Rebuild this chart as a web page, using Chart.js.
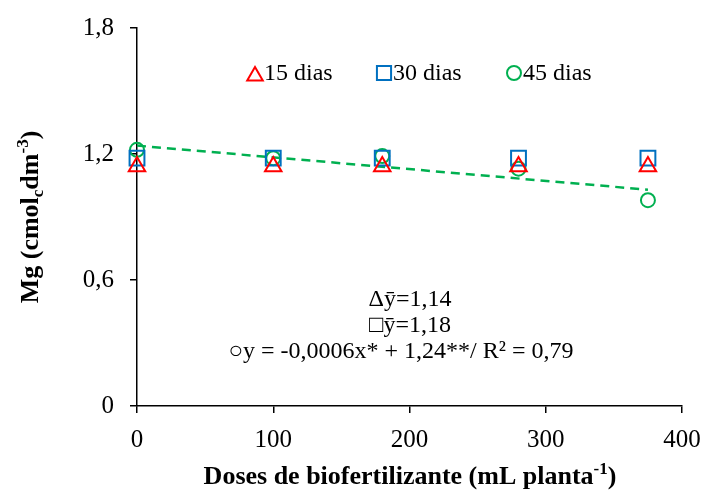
<!DOCTYPE html>
<html><head><meta charset="utf-8">
<script src="https://cdn.jsdelivr.net/npm/chart.js@4/dist/chart.umd.min.js"></script>
<style>html,body{margin:0;padding:0;background:#fff}#wrap{width:704px;height:491px}</style>
</head><body><div id="wrap"><canvas id="c" width="704" height="491"></canvas></div>
<script>
const doses = [0, 100, 180, 280, 375];
const mg15 = [1.14, 1.14, 1.14, 1.14, 1.14];
const mg30 = [1.18, 1.18, 1.18, 1.18, 1.18];
const mg45 = [1.22, 1.18, 1.19, 1.13, 0.98];
const trendX = [0, 375];
const trendY = [1.24, 1.03];
const xTicks = [0, 100, 200, 300, 400];
const yTicks = [0, 0.6, 1.2, 1.8];
const seriesNames = ['15 dias', '30 dias', '45 dias'];
const eqLines = ['\u0394y\u0304=1,14', '\u25A1y\u0304=1,18', '\u25CBy = -0,0006x* + 1,24**/ R\u00B2 = 0,79'];

const RED = '#FF0000', BLUE = '#0070C0', GREEN = '#00B050';
const FONT = '"Liberation Serif", "Times New Roman", serif';

const pts = (xs, ys) => xs.map((x, i) => ({x, y: ys[i]}));

const overlay = {
  id: 'overlay',
  afterDraw(chart) {
    const ctx = chart.ctx;
    ctx.save();
    // legend
    const legY = 73;
    const items = [
      {style: 'triangle', color: RED, x: 255, r: 9},
      {style: 'rect', color: BLUE, x: 384, r: 10},
      {style: 'circle', color: GREEN, x: 514, r: 7}
    ];
    items.forEach((it, i) => {
      ctx.lineWidth = 2;
      ctx.strokeStyle = it.color;
      ctx.fillStyle = 'rgba(0,0,0,0)';
      Chart.helpers.drawPoint(ctx, {pointStyle: it.style, radius: it.r, borderWidth: 2}, it.x, it.style === 'triangle' ? legY + 3 : legY);
      ctx.fillStyle = '#000';
      ctx.font = '24px ' + FONT;
      ctx.textBaseline = 'middle';
      ctx.textAlign = 'left';
      ctx.fillText(seriesNames[i], it.x + 9, legY + 1);
    });
    // equations
    ctx.fillStyle = '#000';
    ctx.font = '24px ' + FONT;
    ctx.textAlign = 'center';
    ctx.textBaseline = 'middle';
    ctx.fillText(eqLines[0], 410, 300);
    ctx.fillText(eqLines[1], 410, 326);
    ctx.fillText(eqLines[2], 401, 352);

    // x title with superscript
    const big = 'bold 26px ' + FONT, small = 'bold 17px ' + FONT;
    ctx.textBaseline = 'alphabetic';
    ctx.textAlign = 'left';
    const p1 = 'Doses de biofertilizante (mL planta', sup = '-1', p2 = ')';
    ctx.font = big; const w1 = ctx.measureText(p1).width;
    ctx.font = small; const ws = ctx.measureText(sup).width;
    ctx.font = big; const w2 = ctx.measureText(p2).width;
    let sx = 410 - (w1 + ws + w2) / 2;
    const by = 484;
    ctx.fillText(p1, sx, by); sx += w1;
    ctx.font = small; ctx.fillText(sup, sx, by - 10); sx += ws;
    ctx.font = big; ctx.fillText(p2, sx, by);

    // y title rotated with subscript and superscript
    ctx.save();
    ctx.translate(38, 217);
    ctx.rotate(-Math.PI / 2);
    const parts = [
      {t: 'Mg (cmol', f: big, dy: 0},
      {t: 'c', f: small, dy: 5},
      {t: 'dm', f: big, dy: 0},
      {t: '-3', f: small, dy: -10},
      {t: ')', f: big, dy: 0}
    ];
    let tot = 0;
    parts.forEach(p => { ctx.font = p.f; p.w = ctx.measureText(p.t).width; tot += p.w; });
    let px = -tot / 2;
    parts.forEach(p => { ctx.font = p.f; ctx.fillText(p.t, px, p.dy); px += p.w; });
    ctx.restore();
    ctx.restore();
  }
};

new Chart(document.getElementById('c'), {
  type: 'scatter',
  data: {
    datasets: [
      {label: seriesNames[0], data: pts(doses, mg15), pointStyle: 'triangle', pointRadius: 9.5, borderColor: RED, backgroundColor: 'rgba(0,0,0,0)', borderWidth: 2, showLine: false, clip: false},
      {label: seriesNames[1], data: pts(doses, mg30), pointStyle: 'rect', pointRadius: 10.5, borderColor: BLUE, backgroundColor: 'rgba(0,0,0,0)', borderWidth: 2, showLine: false, clip: false},
      {label: seriesNames[2], data: pts(doses, mg45), pointStyle: 'circle', pointRadius: 7, borderColor: GREEN, backgroundColor: 'rgba(0,0,0,0)', borderWidth: 2, showLine: false, clip: false},
      {label: 'trend', data: pts(trendX, trendY), showLine: true, pointRadius: 0, borderColor: GREEN, borderWidth: 2.5, borderDash: [9, 6], fill: false, clip: false}
    ]
  },
  options: {
    responsive: false,
    animation: false,
    layout: {padding: {left: 0, right: 22, top: 28, bottom: 0}},
    plugins: {legend: {display: false}, tooltip: {enabled: false}},
    scales: {
      x: {
        type: 'linear', min: 0, max: 400,
        afterBuildTicks: s => { s.ticks = xTicks.map(v => ({value: v})); },
        afterFit: s => { s.height = 85; s.paddingRight = 0; s.paddingLeft = 0; },
        grid: {drawOnChartArea: false, drawTicks: true, tickLength: 7, color: '#000', lineWidth: 1.5},
        border: {color: '#000', width: 1.5},
        ticks: {color: '#000', font: {family: FONT, size: 25}, padding: 12, maxRotation: 0,
          callback: v => String(v)}
      },
      y: {
        type: 'linear', min: 0, max: 1.8,
        afterBuildTicks: s => { s.ticks = yTicks.map(v => ({value: v})); },
        afterFit: s => { s.width = 137; s.paddingTop = 0; s.paddingBottom = 0; },
        grid: {drawOnChartArea: false, drawTicks: true, tickLength: 7, color: '#000', lineWidth: 1.5},
        border: {color: '#000', width: 1.5},
        ticks: {color: '#000', font: {family: FONT, size: 25}, padding: 16,
          callback: v => String(v).replace('.', ',')}
      }
    }
  },
  plugins: [overlay]
});
</script></body></html>
